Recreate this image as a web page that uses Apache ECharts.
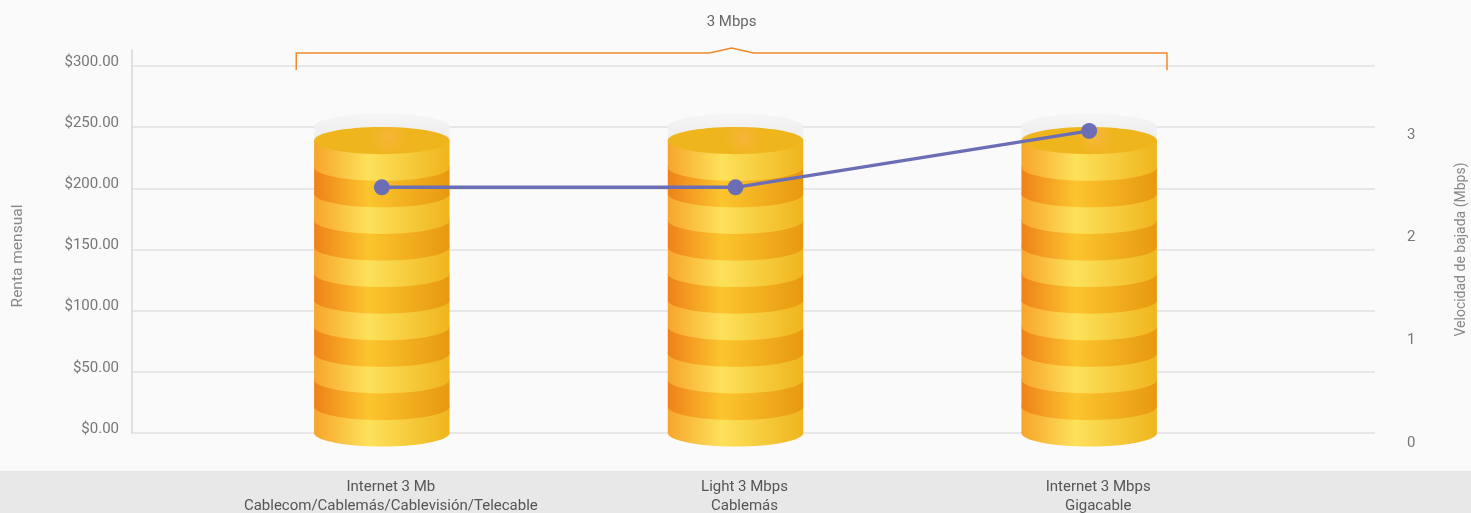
<!DOCTYPE html>
<html>
<head>
<meta charset="utf-8">
<style>
  html, body { margin: 0; padding: 0; background: #fafafa; }
  #chart { width: 1471px; height: 513px; }
</style>
</head>
<body>
<div id="chart"></div>
<script src="https://cdn.jsdelivr.net/npm/echarts@6/dist/echarts.min.js"></script>
<script>
// datos
const planes = [
  'Internet 3 Mb\nCablecom/Cablemás/Cablevisión/Telecable',
  'Light 3 Mbps\nCablemás',
  'Internet 3 Mbps\nGigacable'
];
const renta = [239, 239, 239];
const velocidad = [2.49, 2.49, 3.04];
const grupo = '3 Mbps';
const rentaMax = 300;
const rentaPaso = 50;
const velocidadMax = 3;

const font = 'Roboto, sans-serif';

const claro = new echarts.graphic.LinearGradient(0, 0, 1, 0, [
  { offset: 0, color: '#f7a52b' },
  { offset: 0.4, color: '#fde15b' },
  { offset: 1, color: '#efb51d' }
]);
const oscuro = new echarts.graphic.LinearGradient(0, 0, 1, 0, [
  { offset: 0, color: '#ef8119' },
  { offset: 0.4, color: '#fbc52e' },
  { offset: 1, color: '#e8980f' }
]);
const cara = new echarts.graphic.RadialGradient(0.55, 0.4, 0.7, [
  { offset: 0, color: '#f6b63a' },
  { offset: 1, color: '#efb51c' }
]);
const capa = new echarts.graphic.LinearGradient(0, 0, 0, 1, [
  { offset: 0, color: '#f6f6f6' },
  { offset: 1, color: '#ebebeb' }
]);

function cilindro(params, api) {
  const idx = api.value(0);
  const p = api.coord([idx, api.value(1)]);
  const cx = p[0], top = p[1];
  const base = api.coord([idx, 0])[1];
  const rx = api.size([1, 0])[0] * 0.1915;
  const ry = rx * 0.2;
  const n = 11;
  const h = (base - top) / n;
  const children = [
    { type: 'rect', shape: { x: cx - rx, y: top - ry, width: 2 * rx, height: ry }, style: { fill: capa } },
    { type: 'ellipse', shape: { cx: cx, cy: top - ry, rx: rx, ry: ry }, style: { fill: capa } }
  ];
  for (let i = n - 1; i >= 0; i--) {
    const y0 = top + i * h;
    const fill = i % 2 ? oscuro : claro;
    children.push({ type: 'rect', shape: { x: cx - rx, y: y0, width: 2 * rx, height: h }, style: { fill: fill } });
    children.push({ type: 'ellipse', shape: { cx: cx, cy: y0 + h, rx: rx, ry: ry }, style: { fill: fill } });
  }
  children.push({ type: 'ellipse', shape: { cx: cx, cy: top, rx: rx, ry: ry }, style: { fill: cara } });
  return { type: 'group', children: children };
}

function llave(params, api) {
  const bw = api.size([1, 0])[0];
  const p0 = api.coord([api.value(0), api.value(2)]);
  const p1 = api.coord([api.value(1), api.value(2)]);
  const x0 = p0[0] - bw * 0.242;
  const x1 = p1[0] + bw * 0.22;
  const xm = (x0 + x1) / 2;
  const y = p0[1] - 13;
  const yb = p0[1] + 4;
  return {
    type: 'group',
    children: [
      {
        type: 'polyline',
        shape: { points: [[x0, yb], [x0, y], [xm - 22, y], [xm, y - 5], [xm + 22, y], [x1, y], [x1, yb]] },
        style: { stroke: '#f0892a', lineWidth: 1.5, fill: null }
      },
      {
        type: 'text',
        style: { text: grupo, x: xm, y: y - 31, align: 'center', verticalAlign: 'middle',
          fill: '#666', fontSize: 15, fontFamily: font }
      }
    ]
  };
}

const chart = echarts.init(document.getElementById('chart'));

const option = {
  backgroundColor: '#fafafa',
  animation: false,
  graphic: [{
    type: 'rect', left: 0, bottom: 0, z: -10,
    shape: { width: 1471, height: 42 },
    style: { fill: '#e8e8e8' }
  }],
  grid: [
    { left: 132, right: 96, top: 66, bottom: 80, outerBoundsMode: 'none' },
    { left: 205, right: 205, top: 66, bottom: 80, outerBoundsMode: 'none' },
    { left: 205, right: 205, top: 135, bottom: 70, outerBoundsMode: 'none' },
    { left: 132, right: 96, top: 50, bottom: 80, outerBoundsMode: 'none' }
  ],
  xAxis: [
    { gridIndex: 0, type: 'category', data: planes, show: false },
    {
      gridIndex: 1, type: 'category', data: planes,
      axisLine: { show: false }, axisTick: { show: false },
      axisLabel: {
        margin: 45, color: '#555', fontSize: 15, fontFamily: font,
        lineHeight: 19, padding: [0, 0, 0, 18], interval: 0
      }
    },
    { gridIndex: 2, type: 'category', data: planes, show: false },
    { gridIndex: 3, type: 'category', data: planes, show: false }
  ],
  yAxis: [
    {
      gridIndex: 0, type: 'value', min: 0, max: rentaMax, interval: rentaPaso,
      name: 'Renta mensual', nameLocation: 'middle', nameGap: 106, nameRotate: 90,
      nameTextStyle: { color: '#888', fontSize: 15.5, fontFamily: font, padding: [0, 13, 0, 0] },
      axisLine: { show: false }, axisTick: { show: false },
      axisLabel: {
        margin: 13, color: '#777', fontSize: 15, fontFamily: font,
        verticalAlign: 'bottom', lineHeight: 8,
        formatter: v => '$' + v.toFixed(2)
      },
      splitLine: { lineStyle: { color: '#e0e0e0', width: 1.5 } }
    },
    {
      gridIndex: 0, type: 'value', position: 'right', min: 0, max: rentaMax,
      name: 'Velocidad de bajada (Mbps)', nameLocation: 'middle', nameGap: 79, nameRotate: 90,
      nameTextStyle: { color: '#888', fontSize: 14, fontFamily: font },
      axisLine: { show: false }, axisTick: { show: false }, axisLabel: { show: false },
      splitLine: { show: false }
    },
    { gridIndex: 1, type: 'value', min: 0, max: rentaMax, show: false },
    {
      gridIndex: 2, type: 'value', position: 'right', min: 0, max: velocidadMax, interval: 1,
      axisLine: { show: false }, axisTick: { show: false }, splitLine: { show: false },
      axisLabel: { margin: 141, color: '#777', fontSize: 15, fontFamily: font }
    },
    {
      gridIndex: 3, type: 'value', min: 0, max: 1,
      axisLine: { show: true, lineStyle: { color: '#d6d6d6', width: 1.5 } },
      axisTick: { show: false }, axisLabel: { show: false }, splitLine: { show: false }
    }
  ],
  series: [
    {
      type: 'custom', name: 'Renta mensual', xAxisIndex: 1, yAxisIndex: 2,
      renderItem: cilindro,
      data: renta.map((v, i) => [i, v]),
      encode: { x: 0, y: 1 },
      z: 2
    },
    {
      type: 'custom', name: grupo, xAxisIndex: 1, yAxisIndex: 2,
      renderItem: llave,
      data: [[0, planes.length - 1, rentaMax]],
      encode: { x: [0, 1], y: 2 },
      z: 3
    },
    {
      type: 'line', name: 'Velocidad de bajada', xAxisIndex: 2, yAxisIndex: 3,
      data: velocidad, clip: false,
      symbol: 'circle', symbolSize: 16,
      itemStyle: { color: '#6b6eb4' },
      lineStyle: { color: '#6b6eb4', width: 3.5 },
      z: 5
    }
  ]
};

chart.setOption(option);
</script>
</body>
</html>
